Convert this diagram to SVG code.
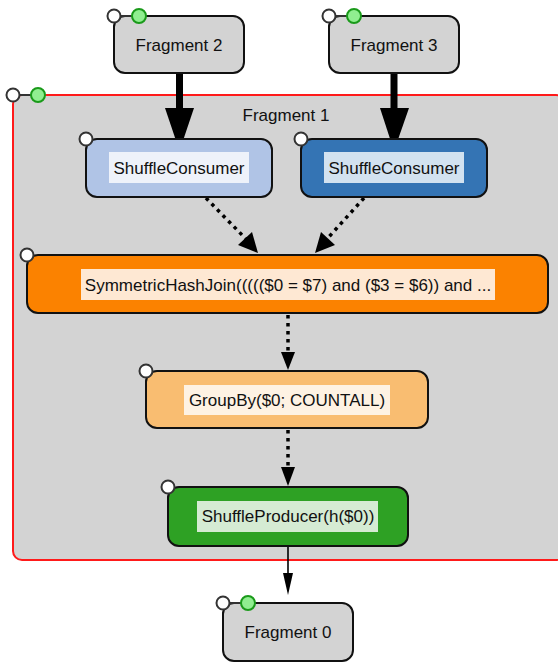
<svg xmlns="http://www.w3.org/2000/svg" width="558" height="662" viewBox="0 0 558 662">
<defs>
<style>
text{font-family:"Liberation Sans",Arial,sans-serif;font-size:17px;fill:#111;text-anchor:middle}
.frag{fill:#d3d3d3;stroke:#111;stroke-width:2}
.node{stroke:#111;stroke-width:2}
.port{fill:#fff;stroke:#333;stroke-width:2}
.gport{fill:#90ee90;stroke:#1a9a1a;stroke-width:2}
.plink{stroke:#333;stroke-width:2}
.dot{stroke:#000;stroke-width:3.5;stroke-dasharray:3.5,4.5;fill:none}
</style>
</defs>
<g id="fragment1">
<rect x="13" y="95" width="552" height="465" rx="9" fill="#d3d3d3" stroke="#ff1a1a" stroke-width="2"/>
<text x="286" y="121">Fragment 1</text>
<line class="plink" x1="13" y1="95" x2="38" y2="95"/>
<circle class="port" cx="13" cy="95" r="6.5"/>
<circle class="gport" cx="38" cy="95" r="7"/>
</g>
<g id="connectors">
<line x1="179.5" y1="73" x2="179.5" y2="112" stroke="#000" stroke-width="7"/>
<polygon points="165,108 194,108 179.5,151" fill="#000"/>
<line x1="394" y1="73" x2="394" y2="112" stroke="#000" stroke-width="7"/>
<polygon points="380,108 409,108 394,151" fill="#000"/>
<line class="dot" x1="206" y1="198" x2="246" y2="239"/>
<polygon points="238,245 252,232 258,253" fill="#000"/>
<line class="dot" x1="364" y1="198" x2="327" y2="239"/>
<polygon points="321,232 335,245 315,253" fill="#000"/>
<line class="dot" x1="288" y1="315" x2="288" y2="352"/>
<polygon points="281,352 295,352 288,370" fill="#000"/>
<line class="dot" x1="288" y1="430" x2="288" y2="467"/>
<polygon points="281,467 295,467 288,486" fill="#000"/>
<line x1="288" y1="547" x2="288" y2="580" stroke="#000" stroke-width="1.6"/>
<polygon points="283,573 293,573 288,595" fill="#000"/>
</g>
<g id="fragment2">
<rect class="frag" x="114" y="16" width="130" height="57" rx="11"/>
<text x="179" y="51">Fragment 2</text>
<line class="plink" x1="114" y1="16" x2="139" y2="16"/>
<circle class="port" cx="114" cy="16" r="6.5"/>
<circle class="gport" cx="139" cy="16" r="7"/>
</g>
<g id="fragment3">
<rect class="frag" x="329" y="16" width="130" height="57" rx="11"/>
<text x="394" y="51">Fragment 3</text>
<line class="plink" x1="329" y1="16" x2="354" y2="16"/>
<circle class="port" cx="329" cy="16" r="6.5"/>
<circle class="gport" cx="354" cy="16" r="7"/>
</g>
<g id="shuffleconsumer1">
<rect class="node" x="86" y="139" width="186" height="58" rx="11" fill="#b0c4e6"/>
<rect x="109" y="152" width="140" height="31" fill="#eef2fa"/>
<text x="179" y="174">ShuffleConsumer</text>
<circle class="port" cx="86" cy="139" r="6.5"/>
</g>
<g id="shuffleconsumer2">
<rect class="node" x="301" y="139" width="186" height="58" rx="11" fill="#3474b4"/>
<rect x="324" y="152" width="140" height="31" fill="#d2e2f0"/>
<text x="394" y="174">ShuffleConsumer</text>
<circle class="port" cx="301" cy="139" r="6.5"/>
</g>
<g id="symmetrichashjoin">
<rect class="node" x="27" y="255" width="521" height="58" rx="11" fill="#fb8200"/>
<rect x="81" y="269" width="414" height="31" fill="#fee8d3"/>
<text x="288" y="291">SymmetricHashJoin((((($0 = $7) and ($3 = $6)) and ...</text>
<circle class="port" cx="27" cy="255" r="6.5"/>
</g>
<g id="groupby">
<rect class="node" x="146" y="371" width="282" height="57" rx="11" fill="#f9bd71"/>
<rect x="184" y="385" width="206" height="30" fill="#fef2e3"/>
<text x="287" y="406">GroupBy($0; COUNTALL)</text>
<circle class="port" cx="146" cy="371" r="6.5"/>
</g>
<g id="shuffleproducer">
<rect class="node" x="168" y="487" width="240" height="59" rx="11" fill="#2ea124"/>
<rect x="197" y="501" width="181" height="31" fill="#d5ebd3"/>
<text x="288" y="522">ShuffleProducer(h($0))</text>
<circle class="port" cx="168" cy="487" r="6.5"/>
</g>
<g id="fragment0">
<rect class="frag" x="223" y="603" width="130" height="58" rx="11"/>
<text x="288" y="638">Fragment 0</text>
<line class="plink" x1="223" y1="603" x2="248" y2="603"/>
<circle class="port" cx="223" cy="603" r="6.5"/>
<circle class="gport" cx="248" cy="603" r="7"/>
</g>
</svg>
